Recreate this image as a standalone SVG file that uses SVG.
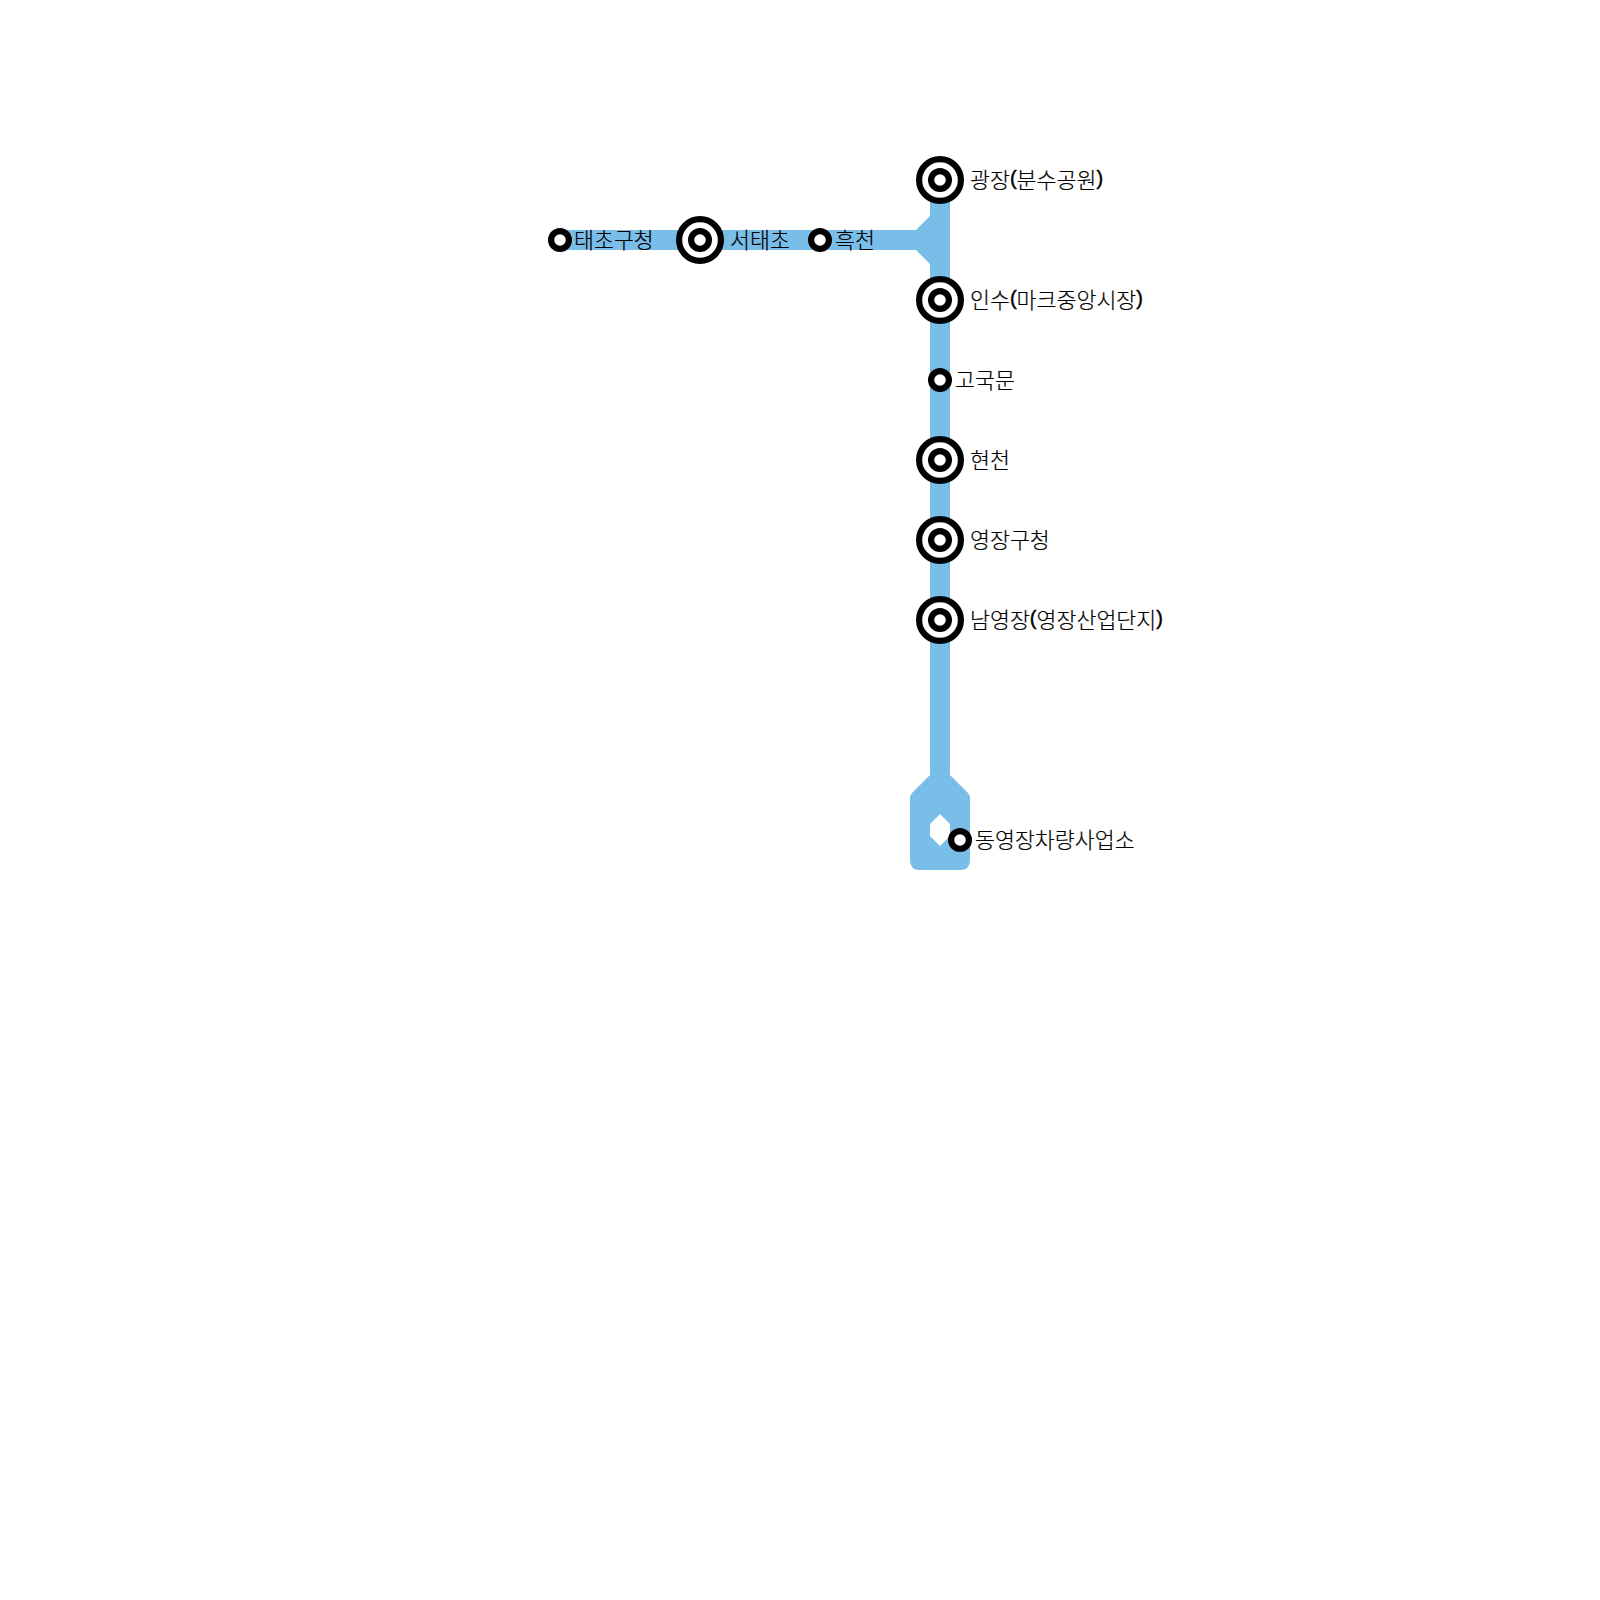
<svg xmlns="http://www.w3.org/2000/svg" width="1600" height="1600" viewBox="0 0 1600 1600">
<style>
.line{fill:#79bde9;stroke:none}
.ln{fill:none;stroke:#79bde9;stroke-width:20}
.o{fill:#fff;stroke:#000;stroke-width:6.2}
.i{fill:#fff;stroke:#000;stroke-width:6.2}
text{font-family:"Noto Sans CJK KR","Noto Sans",sans-serif;font-size:21.7px;font-weight:300;fill:#000;stroke:#000;stroke-width:.2;dominant-baseline:central}
.p{font-family:"Liberation Sans",sans-serif;font-size:20px;font-weight:400;stroke-width:.4}
</style>
<rect width="1600" height="1600" fill="#fff"/>
<g id="connectors">
<path class="ln" d="M560 240H930M940 180V780"/>
<path class="line" d="M930 216L916 230V250L930 264Z"/>
<path class="line" fill-rule="evenodd" d="M930 775L912 793Q910 795 910 798V860Q910 870 920 870H960Q970 870 970 860V798Q970 795 968 793L950 775ZM940 814L950 824V836L940 846L930 836V824Z"/>
</g>
<g id="s1"><circle class="i" cx="560" cy="240" r="8.9"/><text x="574" y="238">태초구청</text></g>
<g id="s2"><circle class="o" cx="700" cy="240" r="20.9"/><circle class="i" cx="700" cy="240" r="8.9"/><text x="730" y="238">서태초</text></g>
<g id="s3"><circle class="i" cx="820" cy="240" r="8.9"/><text x="835" y="238">흑천</text></g>
<g id="s4"><circle class="o" cx="940" cy="180" r="20.9"/><circle class="i" cx="940" cy="180" r="8.9"/><text x="970" y="178">광장<tspan class="p">(</tspan>분수공원<tspan class="p">)</tspan></text></g>
<g id="s5"><circle class="o" cx="940" cy="300" r="20.9"/><circle class="i" cx="940" cy="300" r="8.9"/><text x="970" y="298">인수<tspan class="p">(</tspan>마크중앙시장<tspan class="p">)</tspan></text></g>
<g id="s6"><circle class="i" cx="940" cy="380" r="8.9"/><text x="955" y="378">고국문</text></g>
<g id="s7"><circle class="o" cx="940" cy="460" r="20.9"/><circle class="i" cx="940" cy="460" r="8.9"/><text x="970" y="458">현천</text></g>
<g id="s8"><circle class="o" cx="940" cy="540" r="20.9"/><circle class="i" cx="940" cy="540" r="8.9"/><text x="970" y="538">영장구청</text></g>
<g id="s9"><circle class="o" cx="940" cy="620" r="20.9"/><circle class="i" cx="940" cy="620" r="8.9"/><text x="970" y="618">남영장<tspan class="p">(</tspan>영장산업단지<tspan class="p">)</tspan></text></g>
<g id="s10"><circle class="i" cx="960" cy="840" r="8.9"/><text x="975" y="838">동영장차량사업소</text></g>
</svg>
